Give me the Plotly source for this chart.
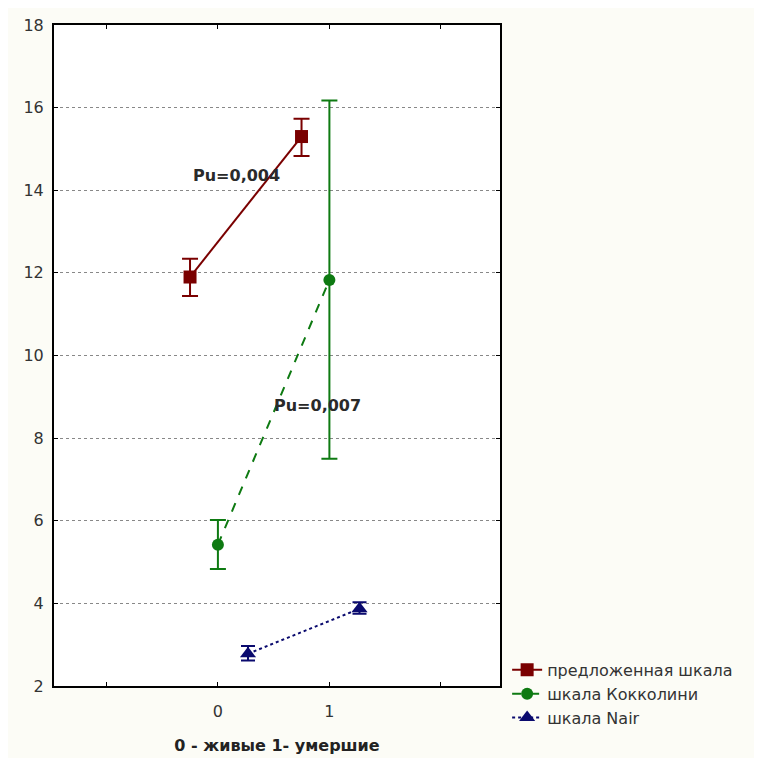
import plotly.graph_objects as go

groups = [0, 1]
x_labels = ["", "0", "1", ""]
x_tickvals = [-1, 0, 1, 2]

series_names = ["предложенная шкала", "шкала Кокколини", "шкала Nair"]
offsets = [-0.25, 0.0, 0.27]

prop_mean = [11.9, 15.3]
prop_upper = [12.34, 15.73]
prop_lower = [11.44, 14.83]

cocc_mean = [5.42, 11.83]
cocc_upper = [6.02, 16.17]
cocc_lower = [4.83, 7.5]

nair_mean = [2.78, 3.87]
nair_upper = [2.97, 4.03]
nair_lower = [2.62, 3.75]

annotations_text = ["Pu=0,004", "Pu=0,007"]
annotations_pos = [(0.17, 14.35), (0.89, 8.8)]

colors = ["#7a0000", "#0e7a12", "#0a0a6e"]
dashes = ["solid", "dash", "dot"]
symbols = ["square", "circle", "triangle-up"]
sizes = [13, 12, 14]
caps = [8, 8, 7]

means = [prop_mean, cocc_mean, nair_mean]
uppers = [prop_upper, cocc_upper, nair_upper]
lowers = [prop_lower, cocc_lower, nair_lower]

FONT = "DejaVu Sans, Verdana, sans-serif"

fig = go.Figure()
for i in range(3):
    xs = [g + offsets[i] for g in groups]
    m = means[i]
    fig.add_trace(go.Scatter(
        x=xs, y=m, name=series_names[i], mode="lines+markers",
        line=dict(color=colors[i], width=2, dash=dashes[i]),
        marker=dict(symbol=symbols[i], size=sizes[i], color=colors[i]),
        error_y=dict(type="data", symmetric=False,
                     array=[u - v for u, v in zip(uppers[i], m)],
                     arrayminus=[v - l for v, l in zip(m, lowers[i])],
                     color=colors[i], thickness=2, width=caps[i]),
    ))

for t, (ax, ay) in zip(annotations_text, annotations_pos):
    fig.add_annotation(x=ax, y=ay, text="<b>" + t + "</b>", showarrow=False,
                       font=dict(family=FONT, size=16, color="#2a2a2a"))

fig.update_layout(
    width=762, height=758,
    margin=dict(l=46, r=270, t=17, b=80, autoexpand=False),
    paper_bgcolor="#fcfcf6",
    plot_bgcolor="white",
    font=dict(family=FONT, size=16, color="#333333"),
    showlegend=True,
    legend=dict(x=1.016, y=0.05, xanchor="left", yanchor="top",
                bgcolor="rgba(0,0,0,0)", font=dict(family=FONT, size=16, color="#333333"),
                tracegroupgap=0, itemwidth=30),
)
fig.update_xaxes(range=[-1.47, 2.53], tickvals=x_tickvals, ticktext=x_labels,
                 showgrid=False, zeroline=False, showline=True, linecolor="black",
                 linewidth=2, mirror="ticks", ticks="inside", ticklen=4, tickcolor="black",
                 ticklabelstandoff=10, automargin=False,
                 title=dict(text="<b>0 - живые 1- умершие</b>",
                            font=dict(family=FONT, size=16, color="#222222"), standoff=20))
fig.update_yaxes(range=[2, 18], tickvals=list(range(2, 19, 2)),
                 showgrid=True, gridcolor="#888888", griddash="dot", gridwidth=1,
                 zeroline=False, showline=True, linecolor="black",
                 linewidth=2, mirror="ticks", ticks="inside", ticklen=4, tickcolor="black",
                 ticklabelstandoff=5, automargin=False)

fig.write_html("out.html")
